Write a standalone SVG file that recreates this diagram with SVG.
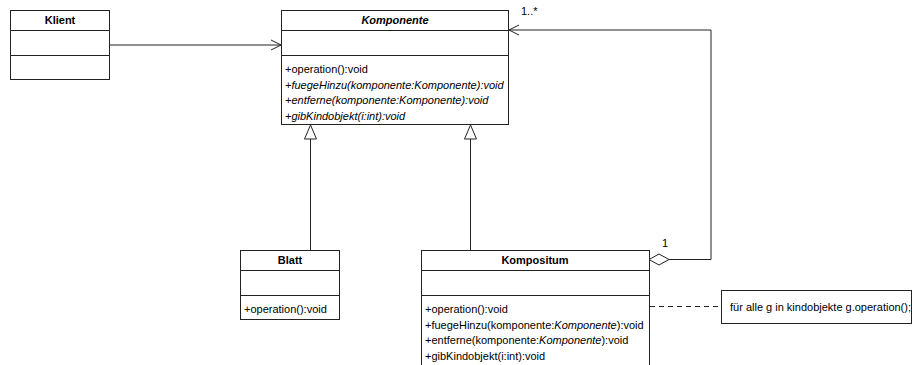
<svg xmlns="http://www.w3.org/2000/svg" width="912" height="365" viewBox="0 0 912 365">
<style>
.box{fill:#fff;stroke:#222;stroke-width:1}
.ln{fill:none;stroke:#222;stroke-width:1}
text{font-family:"Liberation Sans",Arial,sans-serif;font-size:11px;fill:#000}
.hd{font-weight:bold;text-anchor:middle}
.it{font-style:italic}
</style>
<defs>
<marker id="open" markerWidth="12" markerHeight="12" refX="11" refY="6" orient="auto" markerUnits="userSpaceOnUse">
<path d="M1,1 L11,6 L1,11" fill="none" stroke="#222" stroke-width="1"/>
</marker>
</defs>
<g id="connectors">
<line class="ln" x1="109" y1="45" x2="281" y2="45" marker-end="url(#open)"/>
<path class="ln" d="M669,259.5 H711 V30 H509" marker-end="url(#open)"/>
<path d="M649,259.5 L659,254 L669,259.5 L659,265 Z" fill="#fff" stroke="#222"/>
<line class="ln" x1="310.5" y1="251" x2="310.5" y2="138"/>
<path d="M310.5,125 L316.5,139 L304.5,139 Z" fill="#fff" stroke="#222"/>
<line class="ln" x1="470.5" y1="251" x2="470.5" y2="138"/>
<path d="M470.5,125 L476.5,139 L464.5,139 Z" fill="#fff" stroke="#222"/>
<line class="ln" x1="650" y1="306.5" x2="721" y2="306.5" stroke-dasharray="5,4"/>
<text x="521" y="15">1..*</text>
<text x="662" y="247">1</text>
</g>
<g id="klient">
<rect class="box" x="10.5" y="10.5" width="99" height="69"/>
<line class="ln" x1="10.5" y1="30.5" x2="109.5" y2="30.5"/>
<line class="ln" x1="10.5" y1="55.5" x2="109.5" y2="55.5"/>
<text class="hd" x="60" y="24">Klient</text>
</g>
<g id="komponente">
<rect class="box" x="281.5" y="10.5" width="227" height="114"/>
<line class="ln" x1="281.5" y1="30.5" x2="508.5" y2="30.5"/>
<line class="ln" x1="281.5" y1="55.5" x2="508.5" y2="55.5"/>
<text class="hd it" x="395" y="24">Komponente</text>
<text x="285" y="73">+operation():void</text>
<text class="it" x="285" y="88.5">+fuegeHinzu(komponente:Komponente):void</text>
<text class="it" x="285" y="104">+entferne(komponente:Komponente):void</text>
<text class="it" x="285" y="119.5">+gibKindobjekt(i:int):void</text>
</g>
<g id="blatt">
<rect class="box" x="240.5" y="250.5" width="99" height="69"/>
<line class="ln" x1="240.5" y1="270.5" x2="339.5" y2="270.5"/>
<line class="ln" x1="240.5" y1="295.5" x2="339.5" y2="295.5"/>
<text class="hd" x="290" y="264">Blatt</text>
<text x="244" y="313">+operation():void</text>
</g>
<g id="kompositum">
<rect class="box" x="421.5" y="250.5" width="228" height="130"/>
<line class="ln" x1="421.5" y1="270.5" x2="649.5" y2="270.5"/>
<line class="ln" x1="421.5" y1="295.5" x2="649.5" y2="295.5"/>
<text class="hd" x="535" y="264">Kompositum</text>
<text x="425" y="313">+operation():void</text>
<text x="425" y="328.5">+fuegeHinzu(komponente:<tspan class="it">Komponente</tspan>):void</text>
<text x="425" y="344">+entferne(komponente:<tspan class="it">Komponente</tspan>):void</text>
<text x="425" y="359.5">+gibKindobjekt(i:int):void</text>
</g>
<g id="note">
<rect class="box" x="721.5" y="290.5" width="190" height="33"/>
<text x="730" y="311">für alle g in kindobjekte g.operation();</text>
</g>
</svg>
